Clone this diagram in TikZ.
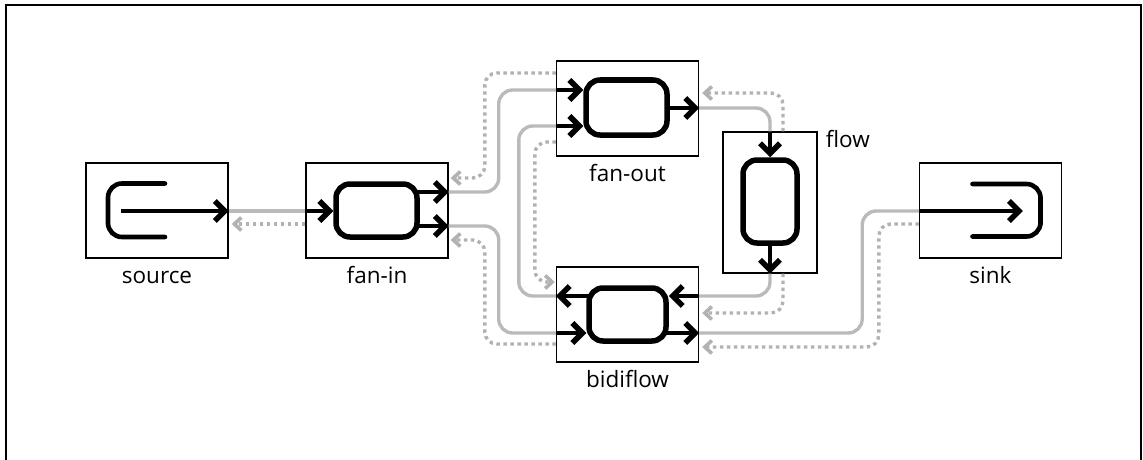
\documentclass[tikz,border=0pt]{standalone}
\usepackage{fontspec}
\setmainfont{Open Sans}
\usetikzlibrary{arrows.meta}
\usetikzlibrary{positioning}
\usetikzlibrary{calc}

\tikzset{
  box/.style={draw, line width=1.4pt, minimum width=142pt, minimum height=95pt, inner sep=0pt},
  core/.style={draw, line width=5.5pt, rounded corners=14pt, inner sep=0pt},
  blk/.style={line width=4.6pt, -{Straight Barb[length=10pt,width=20pt,line width=5.5pt]}},
  cup/.style={line width=4.6pt, rounded corners=14pt, line cap=round},
  fwd/.style={draw=black!27, line width=3.4pt, rounded corners=14pt},
  bwd/.style={draw=black!30, line width=3.4pt, dash pattern=on 3.4pt off 3.6pt, rounded corners=12pt, -{Straight Barb[length=7pt,width=13pt,line width=3.6pt]}},
  lbl/.style={font=\fontsize{22.5}{26}\selectfont, text height=24pt, text depth=5pt, inner sep=1pt},
}

\begin{document}
\begin{tikzpicture}[x=1pt, y=-1pt]
\useasboundingbox (0,0) rectangle (1143,460);
\draw[line width=2.5pt] (6,462) |- (1141,5) -- (1141,462);

% stages
\node[box, label={[lbl]below:source}] (source) at (157,210.5) {};
\node[box, label={[lbl]below:fan-in}] (fanin) at (377,210.5) {};
\node[box, label={[lbl]below:fan-out}] (fanout) at (627.5,108.5) {};
\node[box, label={[lbl]below:bidiflow}] (bidi) at (627.5,314.5) {};
\node[box, minimum width=94pt, minimum height=141pt] (flow) at (770,202.5) {};
\node[lbl, anchor=base west, inner sep=0pt] (flowlbl) at ($(flow.north east)+(8,16)$) {flow};
\node[box, label={[lbl]below:sink}] (sink) at (990.5,210.5) {};

\node[core, minimum width=81pt, minimum height=53pt] (fanincore) at (376.5,210.5) {};
\node[core, minimum width=81pt, minimum height=55pt] (fanoutcore) at (626.5,107.5) {};
\node[core, minimum width=77pt, minimum height=53pt] (bidicore) at (627.5,314.5) {};
\node[core, minimum width=54pt, minimum height=83pt] (flowcore) at (770,201.5) {};

% ports
\coordinate (so-o) at (source.east |- 0,211);
\coordinate (fi-i) at (fanin.west |- 0,211);
\coordinate (fi-o1) at (fanin.east |- 0,192);
\coordinate (fi-o2) at (fanin.east |- 0,226);
\coordinate (fo-i1) at (fanout.west |- 0,90);
\coordinate (fo-i2) at (fanout.west |- 0,126);
\coordinate (fo-o) at (fanout.east |- 0,108);
\coordinate (bd-o1) at (bidi.west |- 0,296);
\coordinate (bd-i1) at (bidi.east |- 0,296);
\coordinate (bd-i2) at (bidi.west |- 0,333);
\coordinate (bd-o2) at (bidi.east |- 0,333);
\coordinate (si-i) at (sink.west |- 0,211);

% source and sink
\draw[cup] ($(source.center)+(8,-27)$) -| ($(source.center)+(-49,0)$) |- ($(source.center)+(8,26.5)$);
\draw[blk] ($(so-o)+(-108,0)$) -- (so-o);
\draw[cup] ($(sink.center)+(-18,-26.5)$) -| ($(sink.center)+(50,0)$) |- ($(sink.center)+(-18,26)$);
\draw[blk] (si-i) -- ($(si-i)+(104,0)$);

% black arrows
\draw[blk] (fi-i) -- (fi-i -| fanincore.west);
\draw[blk] ($(fanincore.east |- fi-o1)+(-3,0)$) -- (fi-o1);
\draw[blk] ($(fanincore.east |- fi-o2)+(-3,0)$) -- (fi-o2);
\draw[blk] (fo-i1) -- (fo-i1 -| fanoutcore.west);
\draw[blk] (fo-i2) -- (fo-i2 -| fanoutcore.west);
\draw[blk] ($(fanoutcore.east |- fo-o)+(-3,0)$) -- (fo-o);
\draw[blk] ($(bidicore.west |- bd-o1)+(3,0)$) -- (bd-o1);
\draw[blk] (bd-i1) -- (bd-i1 -| bidicore.east);
\draw[blk] (bd-i2) -- (bd-i2 -| bidicore.west);
\draw[blk] ($(bidicore.east |- bd-o2)+(-3,0)$) -- (bd-o2);
\draw[blk] (flow.north) -- (flowcore.north);
\draw[blk] ($(flowcore.south)+(0,-3)$) -- (flow.south);

% forward links
\draw[fwd] (so-o) -- (fi-i);
\draw[fwd] (fi-o1) -- ++(50,0) |- (fo-i1);
\draw[fwd] (fi-o2) -- ++(50,0) |- (bd-i2);
\draw[fwd] (bd-o1) -- ++(-37,0) |- (fo-i2);
\draw[fwd] (fo-o) -| (flow.north);
\draw[fwd] (flow.south) |- (bd-i1);
\draw[fwd] (bd-o2) -- ++(163,0) |- (si-i);

% demand links
\draw[bwd] ($(fi-i)+(0,13)$) -- ($(so-o)+(3,13)$);
\draw[bwd] ($(fo-i1)+(0,-17)$) -- ++(-71,0) |- ($(fi-o1)+(2,-14)$);
\draw[bwd] ($(bd-i2)+(0,11)$) -- ++(-71,0) |- ($(fi-o2)+(2,14)$);
\draw[bwd] ($(fo-i2)+(0,16)$) -- ++(-21,0) |- ($(bd-o1)+(-1,-14)$);
\draw[bwd] ($(flow.north)+(13,0)$) |- ($(fo-o)+(3,-15)$);
\draw[bwd] ($(flow.south)+(13,0)$) |- ($(bd-i1)+(3,17)$);
\draw[bwd] ($(si-i)+(0,13)$) -- ++(-40,0) |- ($(bd-o2)+(3,14)$);
\end{tikzpicture}
\end{document}
